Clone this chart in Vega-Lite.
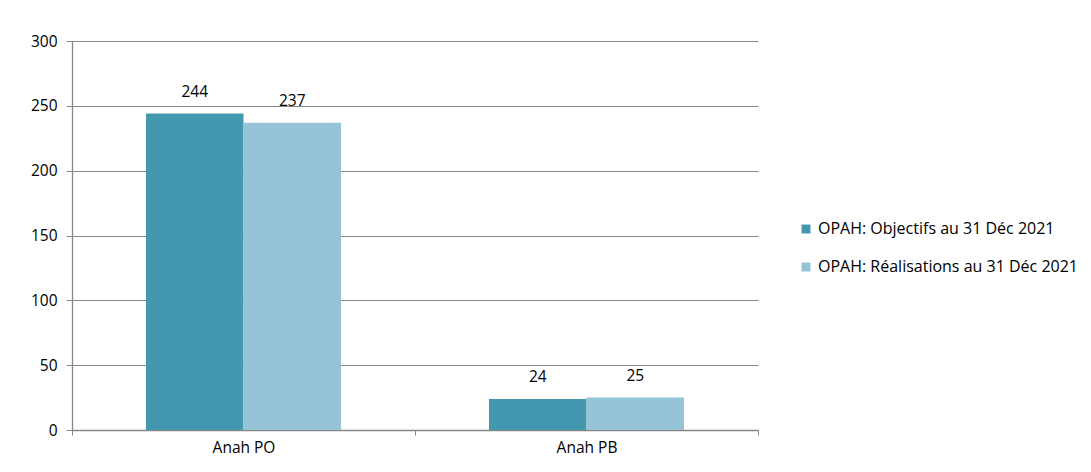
{
  "$schema": "https://vega.github.io/schema/vega-lite/v6.json",
  "width": 686,
  "height": 389,
  "autosize": {"type": "none"},
  "padding": {"left": 72, "top": 41, "right": 333, "bottom": 42},
  "background": "white",
  "config": {
    "view": {"stroke": null},
    "font": "Open Sans",
    "axis": {"labelFont": "Open Sans", "labelFontSize": 15.5, "labelColor": "#000000", "domainColor": "#868686", "tickColor": "#868686", "gridColor": "#868686", "titleFontSize": 14}
  },
  "data": {
    "values": [
      {"cat": "Anah PO", "serie": "OPAH: Objectifs au 31 Déc 2021", "v": 244},
      {"cat": "Anah PO", "serie": "OPAH: Réalisations au 31 Déc 2021", "v": 237},
      {"cat": "Anah PB", "serie": "OPAH: Objectifs au 31 Déc 2021", "v": 24},
      {"cat": "Anah PB", "serie": "OPAH: Réalisations au 31 Déc 2021", "v": 25}
    ]
  },
  "encoding": {
    "x": {
      "field": "cat", "type": "nominal", "sort": ["Anah PO", "Anah PB"],
      "scale": {"paddingInner": 0, "paddingOuter": 0},
      "axis": {"title": null, "labelAngle": 0, "tickBand": "extent", "tickSize": 5, "labelPadding": 5, "domainWidth": 1.3}
    },
    "xOffset": {"field": "serie", "type": "nominal", "scale": {"paddingInner": 0, "paddingOuter": 0.759}},
    "y": {
      "field": "v", "type": "quantitative",
      "scale": {"domain": [0, 300]},
      "axis": {"title": null, "values": [0, 50, 100, 150, 200, 250, 300], "tickSize": 6, "labelPadding": 9, "grid": true, "gridWidth": 1.2, "domainWidth": 1.3}
    }
  },
  "layer": [
    {
      "mark": {"type": "bar"},
      "encoding": {
        "color": {
          "field": "serie", "type": "nominal",
          "scale": {"range": ["#4398B0", "#94C4D6"]},
          "legend": {
            "title": null, "orient": "none", "legendX": 726, "legendY": 180,
            "symbolType": "square", "symbolSize": 80, "symbolStrokeWidth": 0,
            "labelFontSize": 16, "labelFont": "Open Sans", "labelColor": "#000000",
            "rowPadding": 22, "labelOffset": 4, "labelLimit": 400
          }
        }
      }
    },
    {
      "mark": {"type": "text", "baseline": "bottom", "dy": -14, "fontSize": 15.5, "color": "#000000", "font": "Open Sans"},
      "encoding": {"text": {"field": "v", "type": "quantitative"}}
    }
  ]
}
